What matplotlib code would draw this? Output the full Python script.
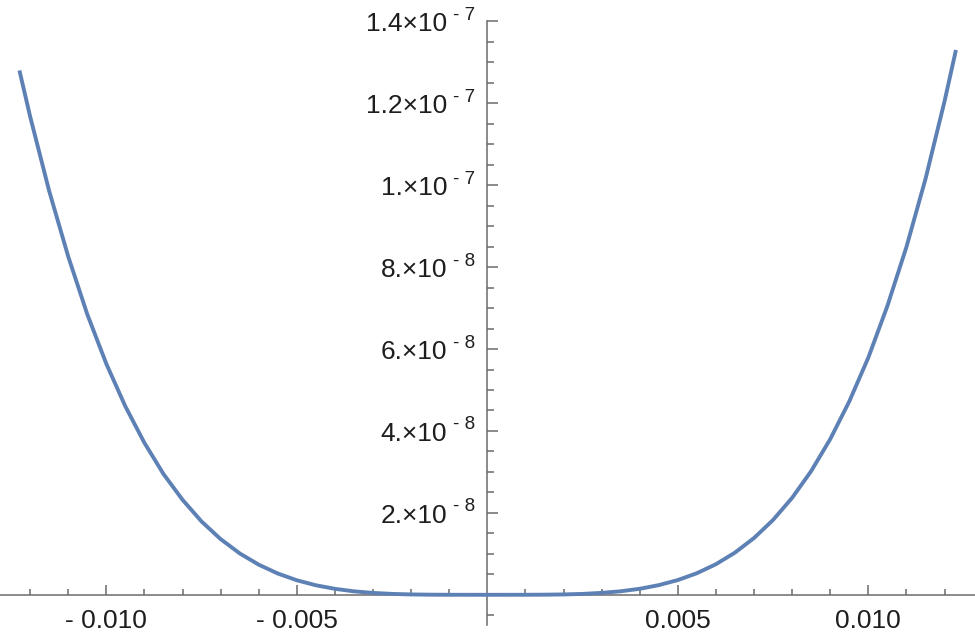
import matplotlib
matplotlib.use("Agg")
import matplotlib.pyplot as plt
from matplotlib.transforms import offset_copy
from matplotlib.ticker import FixedLocator

# curve samples
x_vals = [-0.01228, -0.0120, -0.0115, -0.0110, -0.0105, -0.0100, -0.0095, -0.0090,
          -0.0085, -0.0080, -0.0075, -0.0070, -0.0065, -0.0060, -0.0055, -0.0050,
          -0.0045, -0.0040, -0.0035, -0.0030, -0.0025, -0.0020, -0.0015, -0.0010,
          0.0, 0.0010, 0.0015, 0.0020, 0.0025, 0.0030, 0.0035, 0.0040, 0.0045,
          0.0050, 0.0055, 0.0060, 0.0065, 0.0070, 0.0075, 0.0080, 0.0085, 0.0090,
          0.0095, 0.0100, 0.0105, 0.0110, 0.0115, 0.0120, 0.0123]
y_vals = [1.280e-7, 1.168e-7, 9.86e-8, 8.26e-8, 6.85e-8, 5.64e-8, 4.60e-8, 3.71e-8,
          2.95e-8, 2.32e-8, 1.79e-8, 1.36e-8, 1.012e-8, 7.36e-9, 5.20e-9, 3.55e-9,
          2.33e-9, 1.46e-9, 8.5e-10, 4.6e-10, 2.2e-10, 9e-11, 3e-11, 6e-12,
          0.0, 6e-12, 3e-11, 9e-11, 2.2e-10, 4.7e-10, 8.6e-10, 1.47e-9, 2.36e-9,
          3.60e-9, 5.27e-9, 7.47e-9, 1.030e-8, 1.386e-8, 1.827e-8, 2.367e-8, 3.02e-8, 3.80e-8,
          4.72e-8, 5.79e-8, 7.05e-8, 8.49e-8, 1.015e-7, 1.2045e-7, 1.330e-7]

xtick_vals = [-0.010, -0.005, 0.005, 0.010]
xtick_labels = ["- 0.010", "- 0.005", "0.005", "0.010"]
ytick_vals = [2e-8, 4e-8, 6e-8, 8e-8, 1e-7, 1.2e-7, 1.4e-7]
ytick_main = ["2.\u00d710", "4.\u00d710", "6.\u00d710", "8.\u00d710",
              "1.\u00d710", "1.2\u00d710", "1.4\u00d710"]
ytick_exp = ["- 8", "- 8", "- 8", "- 8", "- 7", "- 7", "- 7"]

plt.rcParams["font.family"] = ["Liberation Sans", "DejaVu Sans"]
axis_color = "#6b6b6b"
text_color = "#1e1e1e"
line_color = "#5e81b5"

fig = plt.figure(figsize=(9.75, 6.37), dpi=100)
ax = fig.add_axes([0, 0, 1, 1])

ax.plot(x_vals, y_vals, color=line_color, lw=2.8, solid_capstyle="butt",
        solid_joinstyle="round", zorder=3)

ax.set_xlim(-0.01279, 0.0128)
ax.set_ylim(-1.03e-8, 1.452e-7)

# Mathematica-style axes crossing at the origin
for side in ["top", "right"]:
    ax.spines[side].set_visible(False)
ax.spines["left"].set_position(("data", 0))
ax.spines["bottom"].set_position(("data", 0))
ax.spines["left"].set_bounds(-0.725e-8, 1.4e-7)
for side in ["left", "bottom"]:
    ax.spines[side].set_color(axis_color)
    ax.spines[side].set_linewidth(1.1)

ax.xaxis.set_major_locator(FixedLocator(xtick_vals))
ax.xaxis.set_minor_locator(FixedLocator([i * 0.001 for i in range(-12, 13) if i % 5 != 0]))
ax.set_xticklabels(xtick_labels)
ax.yaxis.set_major_locator(FixedLocator(ytick_vals))
ax.yaxis.set_minor_locator(FixedLocator([i * 0.5e-8 for i in range(-1, 28) if i % 4 != 0 and i != 0]))
ax.set_yticklabels([])

ax.tick_params(axis="x", which="major", direction="in", length=7.3, width=1.1,
               color=axis_color, pad=10, labelsize=19, labelcolor=text_color)
ax.tick_params(axis="x", which="minor", direction="in", length=4.4, width=1.1, color=axis_color)
ax.tick_params(axis="y", which="major", direction="in", length=7.9, width=1.1, color=axis_color)
ax.tick_params(axis="y", which="minor", direction="in", length=5.0, width=1.1, color=axis_color)

# y tick labels drawn as "m.×10" plus a raised exponent, like the original
main_tr = offset_copy(ax.transData, fig=fig, x=-40, y=-9.7, units="dots")
exp_tr = offset_copy(ax.transData, fig=fig, x=-12, y=1.5, units="dots")
for val, main, ex in zip(ytick_vals, ytick_main, ytick_exp):
    ax.text(0, val, main, transform=main_tr, ha="right", va="baseline",
            fontsize=19, color=text_color)
    ax.text(0, val, ex, transform=exp_tr, ha="right", va="baseline",
            fontsize=13.5, color=text_color)

fig.savefig("out.png", dpi=100)
